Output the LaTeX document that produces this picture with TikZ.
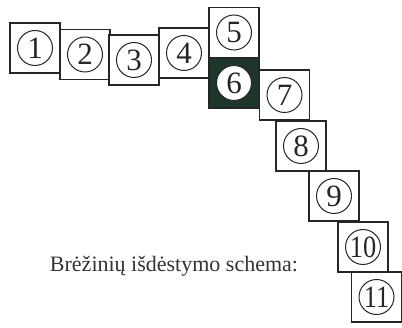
\documentclass[tikz,border=0pt]{standalone}
\usepackage{fontspec}
\setmainfont{Liberation Serif}
\definecolor{darkfill}{HTML}{1E3529}
\begin{document}
\begin{tikzpicture}[x=1pt,y=-1pt,
  box/.style={draw=black!85,line width=1.3pt,rectangle,minimum width=50pt,minimum height=50pt,inner sep=0pt,fill=white},
  darkbox/.style={box,fill=darkfill},
  num/.style={draw=black!85,line width=1pt,circle,minimum size=35pt,inner sep=0pt,font=\fontsize{31}{31}\selectfont,text=black!85},
  wnum/.style={num,fill=white},
  captext/.style={font=\fontsize{22}{22}\selectfont,text=black!80,inner sep=0pt}]
\useasboundingbox (0,0) rectangle (402,328);
\node[box] (b1) at (35,48) {};
\node[box] (b2) at (85,54.5) {};
\node[box] (b3) at (134,60) {};
\node[box] (b4) at (184,53) {};
\node[box] (b5) at (234,32.5) {};
\node[darkbox] (b6) at (234,83) {};
\node[box] (b7) at (284.5,95) {};
\node[box] (b8) at (301,146) {};
\node[box] (b9) at (334,196) {};
\node[box] (b10) at (363,247) {};
\node[box] (b11) at (376.5,297) {};
\node[num] (c1) at (b1) {1};
\node[num] (c2) at (b2) {2};
\node[num] (c3) at (b3) {3};
\node[num] (c4) at (b4) {4};
\node[num] (c5) at (b5) {5};
\node[wnum] (c6) at (b6) {6};
\node[num] (c7) at (b7) {7};
\node[num] (c8) at (b8) {8};
\node[num] (c9) at (b9) {9};
\node[num] (c10) at (b10) {\scalebox{0.85}[1]{10}};
\node[num] (c11) at (b11) {\scalebox{0.85}[1]{11}};
\node[captext] (t) at (174,266) {Brėžinių išdėstymo schema:};
\end{tikzpicture}
\end{document}
